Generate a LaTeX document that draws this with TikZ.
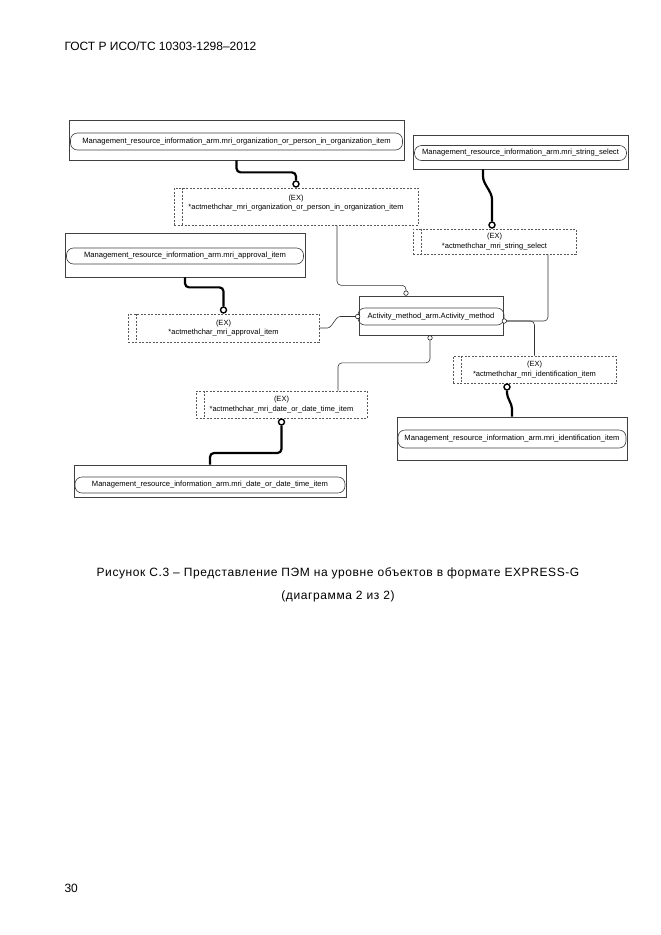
\documentclass[tikz,border=0pt]{standalone}
\usepackage{fontspec}
\setmainfont{Liberation Sans}
\usepackage{tikz}
\usetikzlibrary{arrows.meta,positioning,calc}

\begin{document}
\begin{tikzpicture}[
    x=1pt, y=-1pt,
    entbox/.style={draw=black!75, line width=0.7pt, inner sep=0pt},
    pill/.style={draw=black!75, line width=0.6pt, rounded corners=7pt, inner sep=0pt,
                 font=\fontsize{7.6}{8}\selectfont},
    exbox/.style={draw=black!65, dashed, dash pattern=on 2pt off 1.5pt, line width=0.6pt,
                  inner sep=0pt, align=center, font=\fontsize{7.5}{9.5}\selectfont},
    ring/.style={circle, draw, fill=white, line width=1.4pt, inner sep=0pt, minimum size=6pt},
    sring/.style={circle, draw, fill=white, line width=0.5pt, inner sep=0pt, minimum size=4.5pt},
    thk/.style={line width=2.2pt},
    thn/.style={line width=0.6pt, draw=black!80},
    page/.style={font=\fontsize{12}{14}\selectfont},
    capt/.style={font=\fontsize{12}{14}\selectfont\addfontfeature{LetterSpace=5}}
]
    \useasboundingbox (0,0) rectangle (661,935);

    \node[page, anchor=west] (head) at (61,46) {ГОСТ Р ИСО/ТС 10303-1298--2012};

    % entities
    \node[entbox, minimum width=335pt, minimum height=40pt] (orgbox) at (236.5,140) {};
    \node[pill, minimum width=332pt, minimum height=17pt] (org) at (236.5,141.5)
        {Management\_resource\_information\_arm.mri\_organization\_or\_person\_in\_organization\_item};
    \node[entbox, minimum width=215pt, minimum height=34pt] (strbox) at (520.5,152) {};
    \node[pill, minimum width=212pt, minimum height=15pt] (str) at (520.5,153)
        {Management\_resource\_information\_arm.mri\_string\_select};
    \node[entbox, minimum width=240pt, minimum height=44pt] (aprbox) at (185,255) {};
    \node[pill, minimum width=237pt, minimum height=16pt] (apr) at (185,256)
        {Management\_resource\_information\_arm.mri\_approval\_item};
    \node[entbox, minimum width=144pt, minimum height=39pt] (act) at (431,315.5) {};
    \node[pill, minimum width=146pt, minimum height=17pt] (actpill) at (431,316.5)
        {Activity\_method\_arm.Activity\_method};
    \node[entbox, minimum width=230pt, minimum height=43pt] (idbox) at (512,438.5) {};
    \node[pill, minimum width=228pt, minimum height=18pt] (id) at (512,439)
        {Management\_resource\_information\_arm.mri\_identification\_item};
    \node[entbox, minimum width=272pt, minimum height=32pt] (datebox) at (210,481) {};
    \node[pill, minimum width=270pt, minimum height=16pt] (date) at (210,485)
        {Management\_resource\_information\_arm.mri\_date\_or\_date\_time\_item};

    % extensions
    \node[exbox, minimum width=244pt, minimum height=37pt] (ex1) at (296,206.5)
        {(EX)\\*actmethchar\_mri\_organization\_or\_person\_in\_organization\_item\\[-1pt]};
    \node[exbox, minimum width=163pt, minimum height=25pt] (ex2) at (494.5,241.5)
        {(EX)\\*actmethchar\_mri\_string\_select};
    \node[exbox, minimum width=191pt, minimum height=28pt] (ex3) at (223.5,328)
        {(EX)\\*actmethchar\_mri\_approval\_item};
    \node[exbox, minimum width=171pt, minimum height=27pt] (ex4) at (281.5,404.5)
        {(EX)\\*actmethchar\_mri\_date\_or\_date\_time\_item};
    \node[exbox, minimum width=163pt, minimum height=27pt] (ex5) at (534.5,369.5)
        {(EX)\\*actmethchar\_mri\_identification\_item};
    \foreach \e in {ex1,ex2,ex3,ex4,ex5}
        \draw[black!65, dashed, dash pattern=on 2pt off 1.5pt, line width=0.6pt]
            ([xshift=8.5pt]\e.north west) -- ([xshift=8.5pt]\e.south west);

    % rings
    \node[ring, anchor=south] (r1) at (ex1.north) {};
    \node[ring, anchor=south] (r2) at ([xshift=-2.5pt]ex2.north) {};
    \node[ring, anchor=south] (r3) at (ex3.north) {};
    \node[ring, anchor=north] (r4) at (ex4.south) {};
    \node[ring, anchor=north] (r5) at ([xshift=-27.5pt]ex5.south) {};
    \node[sring, anchor=south] (at) at ([xshift=-25pt]act.north) {};
    \node[sring] (al) at (actpill.west) {};
    \node[sring] (ar) at ([yshift=-4.5pt]actpill.east) {};
    \node[sring, anchor=north] (ab) at ([xshift=-1pt]act.south) {};

    % thick links
    \draw[thk, rounded corners=4pt] (orgbox.south) -- ++(0,12) -| (r1);
    \draw[thk] ([xshift=-37.5pt]strbox.south) -- ++(0,7)
        .. controls +(0,8) and +(0,-8) .. ([yshift=22pt]r2.north) -- (r2);
    \draw[thk, rounded corners=4pt] (aprbox.south) -- ++(0,10) -| (r3);
    \draw[thk, rounded corners=4pt] (r4) -- ++(0,31) -| (datebox.north);
    \draw[thk] (r5) -- ++(0,6)
        .. controls +(0,5) and +(0,-5) .. ([yshift=8pt]idbox.north) -- (idbox.north);

    % thin links
    \draw[thn, rounded corners=4pt] ([xshift=41pt]ex1.south) -- ++(0,60) -| (at);
    \draw[thn, rounded corners=4pt] ([xshift=53.5pt]ex2.south) |- (ar);
    \draw[thn, rounded corners=4pt] (ar) -| (ex5.north);
    \draw[thn] (ex3.east) -- ++(8,0)
        .. controls +(5,0) and +(-5,0) .. ([xshift=-15pt]al.west) -- (al);
    \draw[thn, rounded corners=4pt] (ab) -- ++(0,25) -| ([xshift=56.5pt]ex4.north);

    % caption
    \node[capt] (cap1) at (338,573) {Рисунок С.3 -- Представление ПЭМ на уровне объектов в формате EXPRESS-G};
    \node[capt] (cap2) at (338,596) {(диаграмма 2 из 2)};
    \node[page, anchor=west] (pnum) at (61,888) {30};
\end{tikzpicture}
\end{document}
